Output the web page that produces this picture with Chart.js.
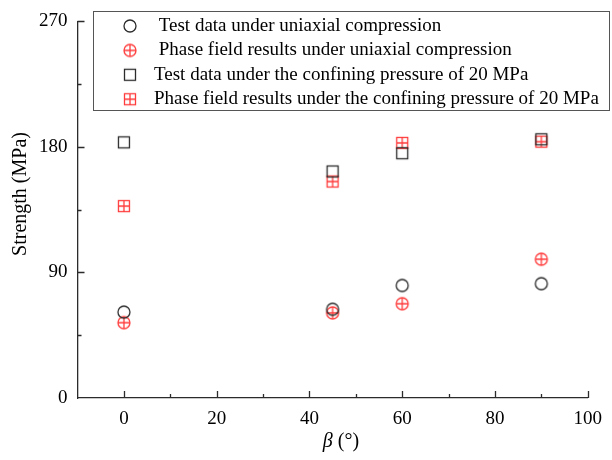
<!DOCTYPE html>
<html>
<head>
<meta charset="utf-8">
<script src="https://cdn.jsdelivr.net/npm/chart.js@4/dist/chart.umd.min.js"></script>
<style>
  html, body { margin: 0; padding: 0; background: #fff; }
  #wrap { width: 612px; height: 460px; }
</style>
</head>
<body>
<div id="wrap"><canvas id="c" width="612" height="460"></canvas></div>
<script>
// beta (deg) and strength (MPa)
const betaAngles = [0, 45, 60, 90];
const testUniaxial = [61.6, 63.6, 80.7, 82.0];
const phaseUniaxial = [54.0, 61.0, 67.6, 99.5];
const testConfined = [183.3, 162.4, 175.5, 185.5];
const phaseConfined = [137.6, 155.2, 182.9, 183.8];

const seriesLabels = [
  " Test data under uniaxial compression",
  " Phase field results under uniaxial compression",
  "Test data under the confining pressure of 20 MPa",
  "Phase field results under the confining pressure of 20 MPa",
];
const yTicks = [0, 90, 180, 270];
const xTicks = [0, 20, 40, 60, 80, 100];

const FONT = "'Liberation Serif', 'Times New Roman', serif";
const BLACK = "#2b2b2b";
const RED = "#ff3b3b";

// small canvases used as point styles
function marker(shape, color, withCross) {
  const s = 16;
  const cv = document.createElement("canvas");
  cv.width = s; cv.height = s;
  const g = cv.getContext("2d");
  g.strokeStyle = color;
  g.lineWidth = 1.3;
  const c = s / 2;
  if (shape === "circle") {
    g.beginPath(); g.arc(c, c, 6, 0, Math.PI * 2); g.stroke();
    if (withCross) {
      g.beginPath();
      g.moveTo(c - 6, c); g.lineTo(c + 6, c);
      g.moveTo(c, c - 6); g.lineTo(c, c + 6);
      g.stroke();
    }
  } else {
    g.strokeRect(c - 5.5, c - 5.5, 11, 11);
    if (withCross) {
      g.beginPath();
      g.moveTo(c - 5.5, c); g.lineTo(c + 5.5, c);
      g.moveTo(c, c - 5.5); g.lineTo(c, c + 5.5);
      g.stroke();
    }
  }
  return cv;
}

const styles = [
  marker("circle", BLACK, false),
  marker("circle", RED, true),
  marker("rect", BLACK, false),
  marker("rect", RED, true),
];

function pts(ys) { return betaAngles.map((x, i) => ({ x, y: ys[i] })); }

// ticks pointing into the plot, majors + minors, axis titles and the boxed legend
const decor = {
  id: "decor",
  afterDraw(chart) {
    const { ctx, chartArea: a, scales: { x, y } } = chart;
    ctx.save();
    ctx.strokeStyle = BLACK;
    ctx.lineWidth = 1.3;
    ctx.beginPath();
    for (let v = 0; v <= 100; v += 10) {
      const px = Math.round(x.getPixelForValue(v)) + 0.5;
      const len = v % 20 === 0 ? 7 : 4;
      ctx.moveTo(px, a.bottom); ctx.lineTo(px, a.bottom - len);
    }
    for (let v = 45; v <= 270; v += 45) {
      const py = Math.round(y.getPixelForValue(v)) + 0.5;
      const len = v % 90 === 0 ? 7 : 4;
      ctx.moveTo(a.left, py); ctx.lineTo(a.left + len, py);
    }
    ctx.stroke();

    // x title with italic beta
    ctx.fillStyle = "#000";
    ctx.textBaseline = "middle";
    const cx = 341, cy = 442;
    ctx.font = "italic 20px " + FONT;
    const wb = ctx.measureText("β").width;
    ctx.font = "20px " + FONT;
    const wr = ctx.measureText(" (°)").width;
    const x0 = cx - (wb + wr) / 2;
    ctx.font = "italic 20px " + FONT;
    ctx.fillText("β", x0, cy);
    ctx.font = "20px " + FONT;
    ctx.fillText(" (°)", x0 + wb, cy);

    // y title
    ctx.save();
    ctx.translate(21, 194);
    ctx.rotate(-Math.PI / 2);
    ctx.textAlign = "center";
    ctx.font = "20px " + FONT;
    ctx.fillText("Strength (MPa)", 0, 0);
    ctx.restore();

    // legend box
    const bx = 93.5, by = 11.5, bw = 516, bh = 99;
    ctx.fillStyle = "#fff";
    ctx.fillRect(bx, by, bw, bh);
    ctx.strokeStyle = "#555";
    ctx.lineWidth = 1;
    ctx.strokeRect(bx, by, bw, bh);
    ctx.font = "19px " + FONT;
    ctx.fillStyle = "#000";
    chart.data.datasets.forEach((ds, i) => {
      const ry = 26 + i * 24.4;
      const img = ds.pointStyle;
      ctx.drawImage(img, 130 - img.width / 2, ry - img.height / 2);
      ctx.fillText(ds.label, 154, ry);
    });
    ctx.restore();
  },
};

new Chart(document.getElementById("c"), {
  type: "scatter",
  data: {
    datasets: [testUniaxial, phaseUniaxial, testConfined, phaseConfined].map((ys, i) => ({
      label: seriesLabels[i],
      data: pts(ys),
      pointStyle: styles[i],
      pointRadius: 6,
      pointHoverRadius: 6,
    })),
  },
  options: {
    responsive: false,
    animation: false,
    events: [],
    layout: { padding: { left: 0, top: 20, right: 23, bottom: 0 } },
    plugins: { legend: { display: false }, tooltip: { enabled: false } },
    scales: {
      x: {
        type: "linear",
        min: -10,
        max: 100,
        afterBuildTicks: (s) => { s.ticks = xTicks.map((v) => ({ value: v })); },
        afterFit: (s) => { s.height = 62; },
        grid: { display: false, drawTicks: false },
        border: { display: true, color: BLACK, width: 1.3 },
        ticks: { color: "#000", padding: 10, font: { family: FONT, size: 19 } },
      },
      y: {
        min: 0,
        max: 270,
        afterBuildTicks: (s) => { s.ticks = yTicks.map((v) => ({ value: v })); },
        afterFit: (s) => { s.width = 77.5; },
        grid: { display: false, drawTicks: false },
        border: { display: true, color: BLACK, width: 1.3 },
        ticks: { color: "#000", padding: 10, font: { family: FONT, size: 19 } },
      },
    },
  },
  plugins: [decor],
});
</script>
</body>
</html>
